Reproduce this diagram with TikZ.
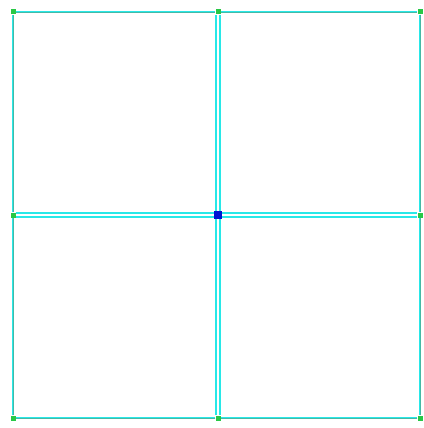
\documentclass[tikz,border=0pt]{standalone}
\usepackage{tikz}

\definecolor{linecyan}{RGB}{40,232,232}
\definecolor{lineteal}{RGB}{70,185,165}
\definecolor{ptgreen}{RGB}{40,200,70}
\definecolor{ptblue}{RGB}{0,20,210}

\tikzset{
  pt/.style={rectangle, fill=ptgreen, inner sep=0pt, minimum size=5pt},
  midpt/.style={rectangle, fill=ptblue, inner sep=0pt, minimum size=8pt},
  gridline/.style={draw=linecyan, line width=2.8pt, postaction={draw=lineteal, line width=0.8pt}},
  midline/.style={draw=linecyan, line width=1.8pt, double=white, double distance=1.6pt}
}

\begin{document}
\begin{tikzpicture}[x=1pt,y=-1pt]
\useasboundingbox (0,0) rectangle (423,428);

\node [pt] (n1) at (13,12) {};
\node [pt] (n2) at (218,12) {};
\node [pt] (n3) at (420,12) {};
\node [pt] (n4) at (13,215) {};
\node [midpt] (n5) at (218,215) {};
\node [pt] (n6) at (420,215) {};
\node [pt] (n7) at (13,418) {};
\node [pt] (n8) at (218,418) {};
\node [pt] (n9) at (420,418) {};

\draw [gridline] (n1) -- (n2);
\draw [gridline] (n2) -- (n3);
\draw [gridline] (n3) -- (n6);
\draw [gridline] (n6) -- (n9);
\draw [gridline] (n9) -- (n8);
\draw [gridline] (n8) -- (n7);
\draw [gridline] (n7) -- (n4);
\draw [gridline] (n4) -- (n1);
\draw [midline] (n2) -- (n5);
\draw [midline] (n5) -- (n8);
\draw [midline] (n4) -- (n5);
\draw [midline] (n5) -- (n6);
\end{tikzpicture}
\end{document}
